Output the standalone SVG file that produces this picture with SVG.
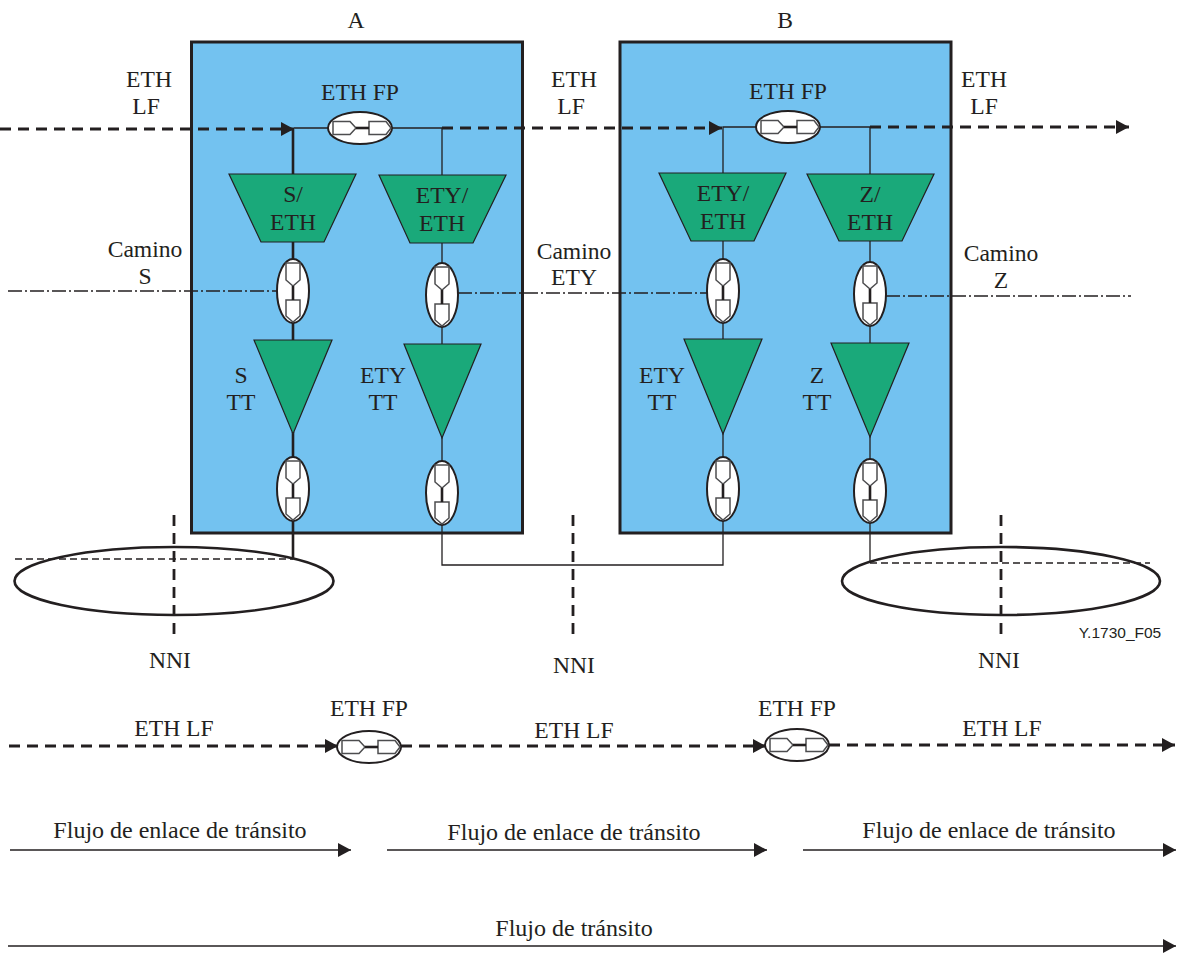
<svg xmlns="http://www.w3.org/2000/svg" width="1177" height="953" viewBox="0 0 1177 953">
<style>
text{font-family:"Liberation Serif","Times New Roman",serif;font-size:23.600px;fill:#231f20;text-anchor:middle}
.f{font-size:24px}
.box{fill:#73c2f0;stroke:#231f20;stroke-width:3}
.g{fill:#1aa97a;stroke:#231f20;stroke-width:1.2}
.l{fill:none;stroke:#231f20;stroke-width:1.3}
.t{fill:none;stroke:#231f20;stroke-width:2.6}
.d{fill:none;stroke:#231f20;stroke-width:2.8;stroke-dasharray:11 7}
.dd{fill:none;stroke:#231f20;stroke-width:1.400;stroke-dasharray:7 4}
.dc{fill:none;stroke:#231f20;stroke-width:1.400;stroke-dasharray:14 3 2 3}
.e{fill:#fff;stroke:#231f20;stroke-width:2}
.p{fill:#fff;stroke:#4d4d4f;stroke-width:1.5}
</style>
<defs>
<g id="lv"><ellipse class="e" cx="0" cy="0" rx="16" ry="32"/><path class="p" d="M-7-28H7V-11L0-5L-7-11Z"/><path class="p" d="M-7 9H7V25L0 31L-7 25Z"/><path class="t" d="M0-5V9"/></g>
<g id="lh"><ellipse class="e" cx="0" cy="0" rx="32" ry="16"/><path class="p" d="M-27-6.500H-10L-4 0L-10 6.500H-27Z"/><path class="p" d="M9-6.500H26L31 0L26 6.500H9Z"/><path class="t" d="M-4 0H9"/></g>
<marker id="a" markerUnits="userSpaceOnUse" markerWidth="14" markerHeight="14" refX="13" refY="7" orient="auto"><path d="M0 0L13 7L0 14Z" fill="#231f20"/></marker>
</defs>
<rect class="box" x="191.500" y="42" width="331" height="491"/>
<rect class="box" x="620" y="42" width="331" height="491"/>
<g id="connectors">
<path class="d" d="M0 129H294" marker-end="url(#a)"/>
<path class="t" d="M293 129V175M293 242V260M293 322V342M293 432V458M293 520V559"/>
<path class="l" d="M294 128H330M392 128H442V176M442 243V264M442 326V345M442 436V462M442 524V565H723V520M723 458V433M723 342V322M723 260V240V127H758M820 127H870V175M870 240V263M870 325V344M870 436V460M870 522V562"/>
<path class="d" d="M442 128H722" marker-end="url(#a)"/>
<path class="d" d="M870 127H1129" marker-end="url(#a)"/>
<path class="dd" d="M15 559H293"/>
<path class="dd" d="M870 563H1150"/>
<path class="dc" d="M8 291H277"/>
<path class="dc" d="M458 293H708"/>
<path class="dc" d="M886 296H1131"/>
<path class="d" d="M174 515V640"/>
<path class="d" d="M573 515V640"/>
<path class="d" d="M1001 515V640"/>
<path class="d" d="M9 746H338" marker-end="url(#a)"/>
<path class="d" d="M401 746H766" marker-end="url(#a)"/>
<path class="d" d="M829 745H1175" marker-end="url(#a)"/>
<path class="l" d="M10 850H351" marker-end="url(#a)"/>
<path class="l" d="M387 850H767" marker-end="url(#a)"/>
<path class="l" d="M803 850H1176" marker-end="url(#a)"/>
<path class="l" d="M8 946H1176" marker-end="url(#a)"/>
</g>
<g id="ring-a"><ellipse cx="174" cy="581" rx="159.500" ry="34" fill="none" stroke="#231f20" stroke-width="2.600"/></g>
<g id="ring-b"><ellipse cx="1001" cy="581" rx="159" ry="34" fill="none" stroke="#231f20" stroke-width="2.600"/></g>
<g id="fp-a"><use href="#lh" x="360" y="128"/><text x="360" y="100">ETH FP</text></g>
<g id="fp-b"><use href="#lh" x="788" y="127"/><text x="788" y="99">ETH FP</text></g>
<g id="s-eth"><path class="g" d="M229 174H356L324 242H261Z"/><text x="293" y="202">S/</text><text x="293" y="230">ETH</text></g>
<g id="ety-eth-a"><path class="g" d="M379 175H506L473 243H410Z"/><text x="442" y="203">ETY/</text><text x="442" y="231">ETH</text></g>
<g id="ety-eth-b"><path class="g" d="M659 173H786L754 241H691Z"/><text x="723" y="201">ETY/</text><text x="723" y="229">ETH</text></g>
<g id="z-eth"><path class="g" d="M807 174H934L902 241H839Z"/><text x="870" y="202">Z/</text><text x="870" y="230">ETH</text></g>
<g id="s-tt"><path class="g" d="M254 340H332L293 434Z"/></g>
<g id="ety-tt-a"><path class="g" d="M404 344H481L442 438Z"/></g>
<g id="ety-tt-b"><path class="g" d="M684 339H762L723 434Z"/></g>
<g id="z-tt"><path class="g" d="M831 343H909L870 437Z"/></g>
<g id="links">
<use href="#lv" x="293" y="291"/><use href="#lv" x="442" y="295"/><use href="#lv" x="293" y="489"/><use href="#lv" x="442" y="493"/>
<use href="#lv" x="723" y="291"/><use href="#lv" x="870" y="294"/><use href="#lv" x="723" y="489"/><use href="#lv" x="870" y="491"/>
</g>
<g id="fp-low-1"><use href="#lh" x="369" y="747"/><text x="369" y="716">ETH FP</text></g>
<g id="fp-low-2"><use href="#lh" x="797" y="745"/><text x="797" y="716">ETH FP</text></g>
<g id="labels">
<text x="356" y="28">A</text><text x="785" y="28">B</text>
<text x="149" y="87">ETH</text><text x="146" y="114">LF</text>
<text x="574" y="87">ETH</text><text x="571" y="114">LF</text>
<text x="984" y="87">ETH</text><text x="984" y="114">LF</text>
<text x="145" y="257">Camino</text><text x="145" y="284">S</text>
<text x="574" y="259">Camino</text><text x="574" y="285">ETY</text>
<text x="1001" y="261">Camino</text><text x="1001" y="288">Z</text>
<text x="241" y="383">S</text><text x="241" y="410">TT</text>
<text x="383" y="383">ETY</text><text x="383" y="410">TT</text>
<text x="662" y="383">ETY</text><text x="662" y="410">TT</text>
<text x="817" y="383">Z</text><text x="817" y="410">TT</text>
<text x="170" y="668">NNI</text><text x="574" y="673">NNI</text><text x="999" y="668">NNI</text>
<text x="1120" y="638" style="font-family:'Liberation Sans',Arial,sans-serif;font-size:15.500px">Y.1730_F05</text>
<text x="174" y="736">ETH LF</text><text x="574" y="738">ETH LF</text><text x="1002" y="736">ETH LF</text>
<text class="f" x="180" y="838">Flujo de enlace de tránsito</text>
<text class="f" x="574" y="840">Flujo de enlace de tránsito</text>
<text class="f" x="989" y="838">Flujo de enlace de tránsito</text>
<text class="f" x="574" y="936">Flujo de tránsito</text>
</g>
</svg>
